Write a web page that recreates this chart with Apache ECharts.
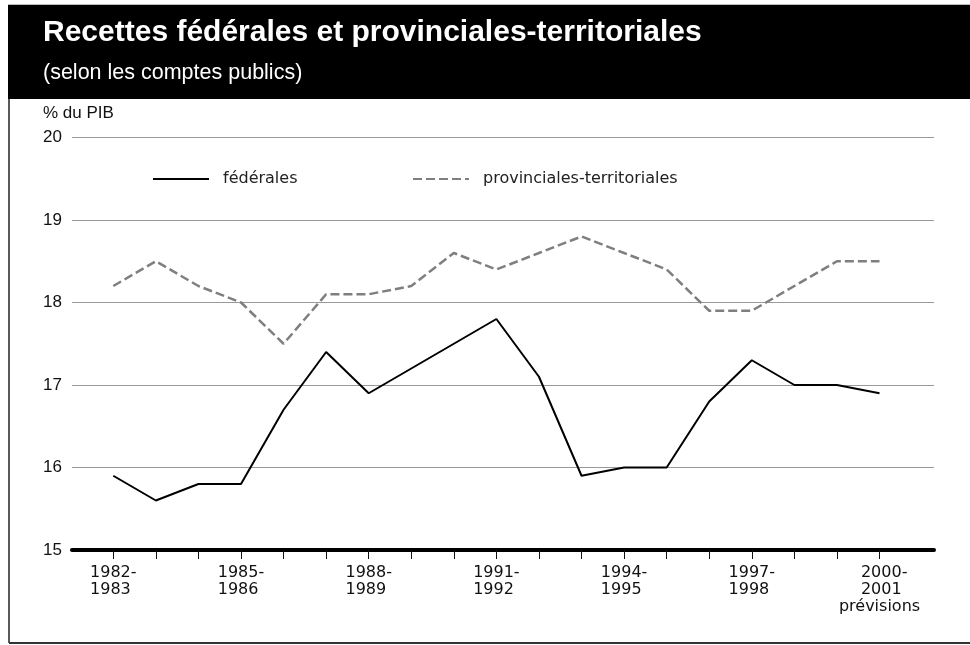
<!DOCTYPE html>
<html>
<head>
<meta charset="utf-8">
<script src="https://cdn.jsdelivr.net/npm/echarts@6/dist/echarts.min.js"></script>
<style>
  html, body { margin: 0; padding: 0; background: #fff; }
  #chart { width: 970px; height: 645px; }
</style>
</head>
<body>
<div id="chart"></div>
<script>
// Fiscal years, 1982-1983 through 2000-2001
const years = [
  '1982-1983', '1983-1984', '1984-1985', '1985-1986', '1986-1987',
  '1987-1988', '1988-1989', '1989-1990', '1990-1991', '1991-1992',
  '1992-1993', '1993-1994', '1994-1995', '1995-1996', '1996-1997',
  '1997-1998', '1998-1999', '1999-2000', '2000-2001'
];
// Revenue as a share of GDP (%)
const federal = [
  15.9, 15.6, 15.8, 15.8, 16.7, 17.4, 16.9, 17.2, 17.5, 17.8,
  17.1, 15.9, 16.0, 16.0, 16.8, 17.3, 17.0, 17.0, 16.9
];
const provincial = [
  18.2, 18.5, 18.2, 18.0, 17.5, 18.1, 18.1, 18.2, 18.6, 18.4,
  18.6, 18.8, 18.6, 18.4, 17.9, 17.9, 18.2, 18.5, 18.5
];
const labelledYears = [0, 3, 6, 9, 12, 15, 18];
const forecastNote = 'prévisions';
const yTicks = [15, 16, 17, 18, 19, 20];

const seriesNames = ['fédérales', 'provinciales-territoriales'];
const sansLight = '"DejaVu Sans", Verdana, sans-serif';
const sansArial = '"Liberation Sans", Arial, Helvetica, sans-serif';

const chart = echarts.init(document.getElementById('chart'), null, { renderer: 'canvas' });

const toPairs = arr => arr.map((v, i) => [i, v]);
const lastIndex = years.length - 1;

// Legend entries: line sample only, no marker
const legendBase = {
  itemWidth: 56,
  itemHeight: 14,
  itemStyle: { opacity: 0, borderWidth: 0 },
  textStyle: { color: '#222', fontFamily: sansLight, fontSize: 16, padding: [0, 0, 0, 9] }
};

chart.setOption({
  animation: false,
  backgroundColor: '#fff',
  graphic: [
    { type: 'rect', shape: { x: 8, y: 5, width: 962, height: 94 }, style: { fill: '#000' }, silent: true },
    { type: 'line', shape: { x1: 8, y1: 4.5, x2: 970, y2: 4.5 }, style: { stroke: '#bbb', lineWidth: 1 }, silent: true },
    { type: 'line', shape: { x1: 9, y1: 99, x2: 9, y2: 643 }, style: { stroke: '#222', lineWidth: 1.5 }, silent: true },
    { type: 'line', shape: { x1: 9, y1: 643, x2: 970, y2: 643 }, style: { stroke: '#333', lineWidth: 2 }, silent: true }
  ],
  title: [
    {
      text: 'Recettes fédérales et provinciales-territoriales',
      left: 38, top: 13,
      textStyle: { color: '#fff', fontFamily: sansArial, fontWeight: 'bold', fontSize: 30 }
    },
    {
      text: '(selon les comptes publics)',
      left: 38, top: 57,
      textStyle: { color: '#fff', fontFamily: sansArial, fontWeight: 'normal', fontSize: 21.5 }
    },
    {
      text: '% du PIB',
      left: 38, top: 100,
      textStyle: { color: '#111', fontFamily: sansArial, fontWeight: 'normal', fontSize: 17 }
    }
  ],
  legend: [
    Object.assign({ data: [seriesNames[0]], left: 147, top: 166 }, legendBase),
    Object.assign({ data: [seriesNames[1]], left: 407, top: 166 }, legendBase)
  ],
  grid: { left: 72, right: 36, top: 137.5, bottom: 95, containLabel: false },
  xAxis: {
    type: 'value',
    min: -0.97,
    max: 19.28,
    splitLine: { show: false },
    axisLine: { show: true, onZero: false, lineStyle: { color: '#000', width: 4 } },
    axisTick: {
      show: true,
      length: 9,
      customValues: years.map((_, i) => i),
      lineStyle: { color: '#111', width: 1 }
    },
    axisLabel: {
      customValues: labelledYears,
      margin: 14,
      color: '#111',
      fontFamily: sansLight,
      fontSize: 16,
      lineHeight: 17,
      formatter: function (v) {
        const i = Math.round(v);
        const parts = years[i].split('-');
        if (i === lastIndex) {
          return '{p|' + parts[0] + '-}\n{p|' + parts[1] + '}\n{c|' + forecastNote + '}';
        }
        return '{a|' + parts[0] + '-}\n{a|' + parts[1] + '}';
      },
      rich: {
        a: { align: 'left', fontFamily: sansLight, fontSize: 16, lineHeight: 17, color: '#111' },
        p: { align: 'left', padding: [0, 0, 0, 22], fontFamily: sansLight, fontSize: 16, lineHeight: 17, color: '#111' },
        c: { align: 'center', fontFamily: sansLight, fontSize: 16, lineHeight: 17, color: '#111' }
      }
    }
  },
  yAxis: {
    type: 'value',
    min: yTicks[0],
    max: yTicks[yTicks.length - 1],
    interval: 1,
    axisLine: { show: false },
    axisTick: { show: false },
    axisLabel: { margin: 10, color: '#111', fontFamily: sansArial, fontSize: 17 },
    splitLine: { show: true, lineStyle: { color: '#9a9a9a', width: 1.2 } }
  },
  series: [
    {
      name: seriesNames[0],
      type: 'line',
      data: toPairs(federal),
      symbol: 'none',
      lineStyle: { color: '#000', width: 2 },
      itemStyle: { color: '#000' },
      z: 3
    },
    {
      name: seriesNames[1],
      type: 'line',
      data: toPairs(provincial),
      symbol: 'none',
      lineStyle: { color: '#7f7f7f', width: 2.5, type: [9, 4] },
      itemStyle: { color: '#7f7f7f' },
      z: 2
    }
  ]
});
</script>
</body>
</html>
